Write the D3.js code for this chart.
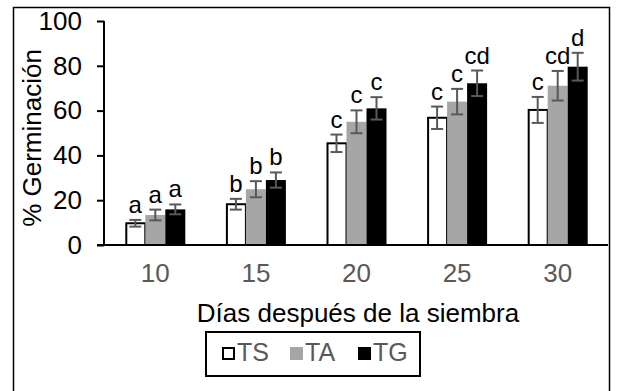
<!DOCTYPE html>
<html>
<head>
<meta charset="utf-8">
<script src="https://cdn.jsdelivr.net/npm/d3@7"></script>
<style>
	body { margin: 0; background: #fff; }
	svg { display: block; font-family: 'Liberation Sans', Arial, sans-serif; }
</style>
</head>
<body>
<svg id="chart" width="617" height="391"></svg>
<script>
'use strict';

// Data
var dias = ['10', '15', '20', '25', '30'];
var series = ['TS', 'TA', 'TG'];
var ts = [9.7, 18.2, 45.4, 56.8, 60.3];
var ta = [13.4, 24.9, 55.0, 64.0, 71.1];
var tg = [15.9, 29.0, 61.0, 72.2, 79.6];
var tsErr = [1.5, 2.4, 3.9, 5.0, 5.8];
var taErr = [2.4, 3.6, 5.1, 5.7, 6.6];
var tgErr = [2.2, 3.4, 5.0, 5.7, 6.2];
var tsLetras = ['a', 'b', 'c', 'c', 'c'];
var taLetras = ['a', 'b', 'c', 'c', 'cd'];
var tgLetras = ['a', 'b', 'c', 'cd', 'd'];
var yTicks = [0, 20, 40, 60, 80, 100];

var colores = { TS: '#ffffff', TA: '#a6a6a6', TG: '#000000' };
var valores = { TS: ts, TA: ta, TG: tg };
var errores = { TS: tsErr, TA: taErr, TG: tgErr };
var letras = { TS: tsLetras, TA: taLetras, TG: tgLetras };

var svg = d3.select('#chart');

// outer frame
svg.append('rect')
	.attr('x', 13.5).attr('y', 7.5)
	.attr('width', 596).attr('height', 400)
	.attr('fill', 'none')
	.attr('stroke', '#000')
	.attr('stroke-width', 1.5);

var x = d3.scaleBand().domain(dias).range([105, 608]);
var xs = d3.scaleBand().domain(series).range([-30, 30]);
var y = d3.scaleLinear().domain([0, 100]).range([245, 21]);

// flatten into one record per bar
var barras = [];
dias.forEach(function(d, i) {
	series.forEach(function(s) {
		barras.push({ dia: d, serie: s, v: valores[s][i], e: errores[s][i], letra: letras[s][i] });
	});
});

function cx(d) { return x(d.dia) + x.bandwidth() / 2 + xs(d.serie); }

// bars
svg.selectAll('rect.bar')
	.data(barras)
	.enter().append('rect')
	.attr('class', 'bar')
	.attr('x', function(d) { return cx(d) + (d.serie === 'TS' ? 1 : 0); })
	.attr('y', function(d) { return y(d.v); })
	.attr('width', function(d) { return xs.bandwidth() - (d.serie === 'TS' ? 1 : 0); })
	.attr('height', function(d) { return y(0) - y(d.v); })
	.attr('fill', function(d) { return colores[d.serie]; })
	.attr('stroke', function(d) { return d.serie === 'TS' ? '#000' : 'none'; })
	.attr('stroke-width', 2);

// error bars
var eb = svg.selectAll('g.err')
	.data(barras)
	.enter().append('g')
	.attr('class', 'err')
	.attr('stroke', '#595959')
	.attr('stroke-width', 2)
	.attr('transform', function(d) { return 'translate(' + (cx(d) + xs.bandwidth() / 2) + ',0)'; });

eb.append('line')
	.attr('y1', function(d) { return y(d.v + d.e); })
	.attr('y2', function(d) { return y(d.v - d.e); });
eb.append('line')
	.attr('x1', -6).attr('x2', 6)
	.attr('y1', function(d) { return y(d.v + d.e); })
	.attr('y2', function(d) { return y(d.v + d.e); });
eb.append('line')
	.attr('x1', -6).attr('x2', 6)
	.attr('y1', function(d) { return y(d.v - d.e); })
	.attr('y2', function(d) { return y(d.v - d.e); });

// significance letters
svg.selectAll('text.letra')
	.data(barras)
	.enter().append('text')
	.attr('class', 'letra')
	.attr('x', function(d) { return cx(d) + xs.bandwidth() / 2; })
	.attr('y', function(d) { return y(d.v + d.e) - 7; })
	.attr('text-anchor', 'middle')
	.attr('font-size', 24)
	.attr('fill', '#000')
	.text(function(d) { return d.letra; });

// y axis
var yAxis = d3.axisLeft(y).tickValues(yTicks).tickSize(7).tickPadding(15);
var gy = svg.append('g')
	.attr('transform', 'translate(104,0)')
	.call(yAxis);
gy.select('.domain').attr('stroke', '#000').attr('stroke-width', 2)
	.attr('d', 'M0,' + y(100) + 'V' + y(0));
gy.selectAll('.tick line').attr('stroke', '#000').attr('stroke-width', 2);
gy.selectAll('.tick text')
	.attr('font-size', 26)
	.attr('font-family', 'Liberation Sans, Arial, sans-serif')
	.attr('fill', '#000');

// x axis
var xAxis = d3.axisBottom(x).tickSize(0).tickPadding(19);
var gx = svg.append('g')
	.attr('transform', 'translate(0,' + y(0) + ')')
	.call(xAxis);
gx.select('.domain').attr('stroke', '#000').attr('stroke-width', 2)
	.attr('d', 'M97,0H608');
gx.selectAll('.tick text')
	.attr('font-size', 26)
	.attr('font-family', 'Liberation Sans, Arial, sans-serif')
	.attr('fill', '#595959');

// axis titles
svg.append('text')
	.attr('transform', 'translate(41,138) rotate(-90)')
	.attr('text-anchor', 'middle')
	.attr('font-size', 26)
	.attr('fill', '#000')
	.text('% Germinación');

svg.append('text')
	.attr('x', 358).attr('y', 322)
	.attr('text-anchor', 'middle')
	.attr('font-size', 26)
	.attr('fill', '#000')
	.text('Días después de la siembra');

// legend
var leg = svg.append('g');
leg.append('rect')
	.attr('x', 206).attr('y', 332)
	.attr('width', 214).attr('height', 44)
	.attr('fill', '#fff')
	.attr('stroke', '#000')
	.attr('stroke-width', 2);

var lx = d3.scalePoint().domain(series).range([222, 358]);
var items = leg.selectAll('g.item')
	.data(series)
	.enter().append('g')
	.attr('class', 'item')
	.attr('transform', function(s) { return 'translate(' + lx(s) + ',347)'; });
items.append('rect')
	.attr('x', function(s) { return s === 'TS' ? 1 : 0; })
	.attr('y', function(s) { return s === 'TS' ? 1 : 0; })
	.attr('width', function(s) { return s === 'TS' ? 11 : 13; })
	.attr('height', function(s) { return s === 'TS' ? 11 : 13; })
	.attr('fill', function(s) { return colores[s]; })
	.attr('stroke', function(s) { return s === 'TS' ? '#000' : 'none'; })
	.attr('stroke-width', 2);
items.append('text')
	.attr('x', 15).attr('y', 14)
	.attr('font-size', 25)
	.attr('fill', '#595959')
	.text(function(s) { return s; });
</script>
</body>
</html>
